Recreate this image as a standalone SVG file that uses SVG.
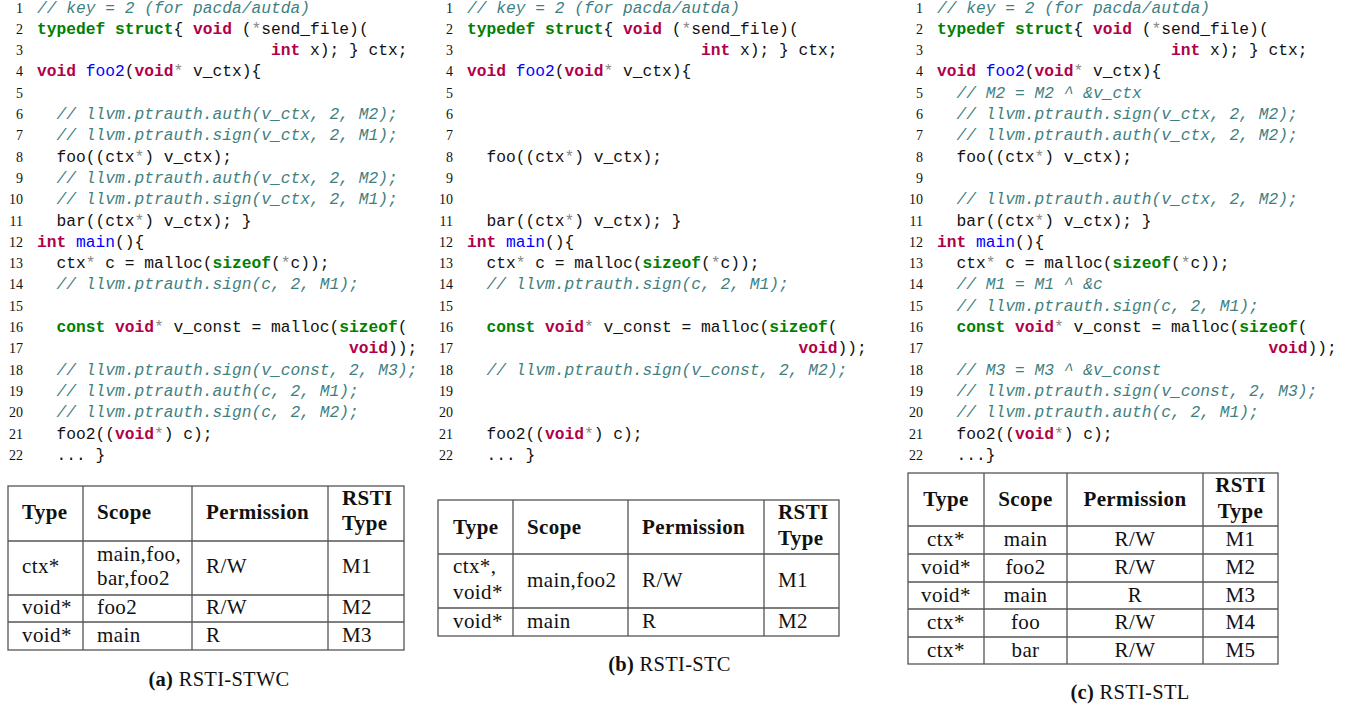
<svg xmlns="http://www.w3.org/2000/svg" width="1348" height="706" viewBox="0 0 1348 706">
<style>
.code{font-family:"Liberation Mono",monospace;font-size:16.25px;fill:#111}
.c{fill:#3f7f7f;font-style:italic}
.kg{fill:#008000;font-weight:bold}
.kr{fill:#b0004a;font-weight:bold}
.fn{fill:#0000ff}
.a{fill:#888}
.ln{font-family:"Liberation Serif",serif;font-size:14px;text-anchor:end;fill:#111}
.tt{font-family:"Liberation Serif",serif;font-size:21px;letter-spacing:0.4px;fill:#111}
.ct{text-anchor:middle}
.b{font-weight:bold}
.cap{font-family:"Liberation Serif",serif;font-size:20.5px;letter-spacing:0.3px;fill:#111;text-anchor:middle}
.grid{fill:none;stroke:#555;stroke-width:1.3}
</style>
<rect width="1348" height="706" fill="#fff"/>

<!-- Panel A -->
<g id="panelA">
<g class="ln">
<text x="23" y="12.5">1</text><text x="23" y="33.8">2</text><text x="23" y="55.1">3</text><text x="23" y="76.4">4</text><text x="23" y="97.7">5</text><text x="23" y="119">6</text><text x="23" y="140.3">7</text><text x="23" y="161.6">8</text><text x="23" y="182.9">9</text><text x="23" y="204.2">10</text><text x="23" y="225.5">11</text><text x="23" y="246.8">12</text><text x="23" y="268.1">13</text><text x="23" y="289.4">14</text><text x="23" y="310.7">15</text><text x="23" y="332">16</text><text x="23" y="353.3">17</text><text x="23" y="374.6">18</text><text x="23" y="395.9">19</text><text x="23" y="417.2">20</text><text x="23" y="438.5">21</text><text x="23" y="459.8">22</text>
</g>
<g class="code">
<text x="37" y="12.5"><tspan class="c">// key = 2 (for pacda/autda)</tspan></text>
<text x="37" y="33.8"><tspan class="kg">typedef</tspan> <tspan class="kg">struct</tspan>{ <tspan class="kr">void</tspan> (<tspan class="a">*</tspan>send_file)(</text>
<text x="271" y="55.1"><tspan class="kr">int</tspan> x); } ctx;</text>
<text x="37" y="76.4"><tspan class="kr">void</tspan> <tspan class="fn">foo2</tspan>(<tspan class="kr">void</tspan><tspan class="a">*</tspan> v_ctx){</text>
<text x="56.5" y="119"><tspan class="c">// llvm.ptrauth.auth(v_ctx, 2, M2);</tspan></text>
<text x="56.5" y="140.3"><tspan class="c">// llvm.ptrauth.sign(v_ctx, 2, M1);</tspan></text>
<text x="56.5" y="161.6">foo((ctx<tspan class="a">*</tspan>) v_ctx);</text>
<text x="56.5" y="182.9"><tspan class="c">// llvm.ptrauth.auth(v_ctx, 2, M2);</tspan></text>
<text x="56.5" y="204.2"><tspan class="c">// llvm.ptrauth.sign(v_ctx, 2, M1);</tspan></text>
<text x="56.5" y="225.5">bar((ctx<tspan class="a">*</tspan>) v_ctx); }</text>
<text x="37" y="246.8"><tspan class="kr">int</tspan> <tspan class="fn">main</tspan>(){</text>
<text x="56.5" y="268.1">ctx<tspan class="a">*</tspan> c = malloc(<tspan class="kg">sizeof</tspan>(<tspan class="a">*</tspan>c));</text>
<text x="56.5" y="289.4"><tspan class="c">// llvm.ptrauth.sign(c, 2, M1);</tspan></text>
<text x="56.5" y="332"><tspan class="kg">const</tspan> <tspan class="kr">void</tspan><tspan class="a">*</tspan> v_const = malloc(<tspan class="kg">sizeof</tspan>(</text>
<text x="349" y="353.3"><tspan class="kr">void</tspan>));</text>
<text x="56.5" y="374.6"><tspan class="c">// llvm.ptrauth.sign(v_const, 2, M3);</tspan></text>
<text x="56.5" y="395.9"><tspan class="c">// llvm.ptrauth.auth(c, 2, M1);</tspan></text>
<text x="56.5" y="417.2"><tspan class="c">// llvm.ptrauth.sign(c, 2, M2);</tspan></text>
<text x="56.5" y="438.5">foo2((<tspan class="kr">void</tspan><tspan class="a">*</tspan>) c);</text>
<text x="56.5" y="459.8">... }</text>
</g>
<g id="tableA">
<rect class="grid" x="8" y="486" width="396" height="164"/>
<path class="grid" d="M83 486V650M192 486V650M328 486V650M8 541H404M8 595H404M8 622H404"/>
<g class="tt">
<text class="b" x="22" y="519">Type</text><text class="b" x="97" y="519">Scope</text><text class="b" x="206" y="519">Permission</text><text class="b" x="342" y="505">RSTI</text><text class="b" x="342" y="530">Type</text>
<text x="22" y="573">ctx*</text><text x="97" y="561">main,foo,</text><text x="97" y="585">bar,foo2</text><text x="206" y="573">R/W</text><text x="342" y="573">M1</text>
<text x="22" y="614">void*</text><text x="97" y="614">foo2</text><text x="206" y="614">R/W</text><text x="342" y="614">M2</text>
<text x="22" y="642">void*</text><text x="97" y="642">main</text><text x="206" y="642">R</text><text x="342" y="642">M3</text>
</g>
</g>
<text class="cap" x="219" y="686"><tspan class="b">(a)</tspan> RSTI-STWC</text>
</g>

<!-- Panel B -->
<g id="panelB">
<g class="ln">
<text x="453" y="12.5">1</text><text x="453" y="33.8">2</text><text x="453" y="55.1">3</text><text x="453" y="76.4">4</text><text x="453" y="97.7">5</text><text x="453" y="119">6</text><text x="453" y="140.3">7</text><text x="453" y="161.6">8</text><text x="453" y="182.9">9</text><text x="453" y="204.2">10</text><text x="453" y="225.5">11</text><text x="453" y="246.8">12</text><text x="453" y="268.1">13</text><text x="453" y="289.4">14</text><text x="453" y="310.7">15</text><text x="453" y="332">16</text><text x="453" y="353.3">17</text><text x="453" y="374.6">18</text><text x="453" y="395.9">19</text><text x="453" y="417.2">20</text><text x="453" y="438.5">21</text><text x="453" y="459.8">22</text>
</g>
<g class="code">
<text x="467" y="12.5"><tspan class="c">// key = 2 (for pacda/autda)</tspan></text>
<text x="467" y="33.8"><tspan class="kg">typedef</tspan> <tspan class="kg">struct</tspan>{ <tspan class="kr">void</tspan> (<tspan class="a">*</tspan>send_file)(</text>
<text x="701" y="55.1"><tspan class="kr">int</tspan> x); } ctx;</text>
<text x="467" y="76.4"><tspan class="kr">void</tspan> <tspan class="fn">foo2</tspan>(<tspan class="kr">void</tspan><tspan class="a">*</tspan> v_ctx){</text>
<text x="486.5" y="161.6">foo((ctx<tspan class="a">*</tspan>) v_ctx);</text>
<text x="486.5" y="225.5">bar((ctx<tspan class="a">*</tspan>) v_ctx); }</text>
<text x="467" y="246.8"><tspan class="kr">int</tspan> <tspan class="fn">main</tspan>(){</text>
<text x="486.5" y="268.1">ctx<tspan class="a">*</tspan> c = malloc(<tspan class="kg">sizeof</tspan>(<tspan class="a">*</tspan>c));</text>
<text x="486.5" y="289.4"><tspan class="c">// llvm.ptrauth.sign(c, 2, M1);</tspan></text>
<text x="486.5" y="332"><tspan class="kg">const</tspan> <tspan class="kr">void</tspan><tspan class="a">*</tspan> v_const = malloc(<tspan class="kg">sizeof</tspan>(</text>
<text x="798.5" y="353.3"><tspan class="kr">void</tspan>));</text>
<text x="486.5" y="374.6"><tspan class="c">// llvm.ptrauth.sign(v_const, 2, M2);</tspan></text>
<text x="486.5" y="438.5">foo2((<tspan class="kr">void</tspan><tspan class="a">*</tspan>) c);</text>
<text x="486.5" y="459.8">... }</text>
</g>
<g id="tableB">
<rect class="grid" x="438" y="500" width="401" height="136"/>
<path class="grid" d="M513 500V636M628 500V636M764 500V636M438 554H839M438 608H839"/>
<g class="tt">
<text class="b" x="453" y="534">Type</text><text class="b" x="527" y="534">Scope</text><text class="b" x="642" y="534">Permission</text><text class="b" x="778" y="519">RSTI</text><text class="b" x="778" y="545">Type</text>
<text x="453" y="573">ctx*,</text><text x="453" y="599">void*</text><text x="527" y="587">main,foo2</text><text x="642" y="587">R/W</text><text x="778" y="587">M1</text>
<text x="453" y="628">void*</text><text x="527" y="628">main</text><text x="642" y="628">R</text><text x="778" y="628">M2</text>
</g>
</g>
<text class="cap" x="669.5" y="671"><tspan class="b">(b)</tspan> RSTI-STC</text>
</g>

<!-- Panel C -->
<g id="panelC">
<g class="ln">
<text x="923" y="12.5">1</text><text x="923" y="33.8">2</text><text x="923" y="55.1">3</text><text x="923" y="76.4">4</text><text x="923" y="97.7">5</text><text x="923" y="119">6</text><text x="923" y="140.3">7</text><text x="923" y="161.6">8</text><text x="923" y="182.9">9</text><text x="923" y="204.2">10</text><text x="923" y="225.5">11</text><text x="923" y="246.8">12</text><text x="923" y="268.1">13</text><text x="923" y="289.4">14</text><text x="923" y="310.7">15</text><text x="923" y="332">16</text><text x="923" y="353.3">17</text><text x="923" y="374.6">18</text><text x="923" y="395.9">19</text><text x="923" y="417.2">20</text><text x="923" y="438.5">21</text><text x="923" y="459.8">22</text>
</g>
<g class="code">
<text x="937" y="12.5"><tspan class="c">// key = 2 (for pacda/autda)</tspan></text>
<text x="937" y="33.8"><tspan class="kg">typedef</tspan> <tspan class="kg">struct</tspan>{ <tspan class="kr">void</tspan> (<tspan class="a">*</tspan>send_file)(</text>
<text x="1171" y="55.1"><tspan class="kr">int</tspan> x); } ctx;</text>
<text x="937" y="76.4"><tspan class="kr">void</tspan> <tspan class="fn">foo2</tspan>(<tspan class="kr">void</tspan><tspan class="a">*</tspan> v_ctx){</text>
<text x="956.5" y="97.7"><tspan class="c">// M2 = M2 ^ &amp;v_ctx</tspan></text>
<text x="956.5" y="119"><tspan class="c">// llvm.ptrauth.sign(v_ctx, 2, M2);</tspan></text>
<text x="956.5" y="140.3"><tspan class="c">// llvm.ptrauth.auth(v_ctx, 2, M2);</tspan></text>
<text x="956.5" y="161.6">foo((ctx<tspan class="a">*</tspan>) v_ctx);</text>
<text x="956.5" y="204.2"><tspan class="c">// llvm.ptrauth.auth(v_ctx, 2, M2);</tspan></text>
<text x="956.5" y="225.5">bar((ctx<tspan class="a">*</tspan>) v_ctx); }</text>
<text x="937" y="246.8"><tspan class="kr">int</tspan> <tspan class="fn">main</tspan>(){</text>
<text x="956.5" y="268.1">ctx<tspan class="a">*</tspan> c = malloc(<tspan class="kg">sizeof</tspan>(<tspan class="a">*</tspan>c));</text>
<text x="956.5" y="289.4"><tspan class="c">// M1 = M1 ^ &amp;c</tspan></text>
<text x="956.5" y="310.7"><tspan class="c">// llvm.ptrauth.sign(c, 2, M1);</tspan></text>
<text x="956.5" y="332"><tspan class="kg">const</tspan> <tspan class="kr">void</tspan><tspan class="a">*</tspan> v_const = malloc(<tspan class="kg">sizeof</tspan>(</text>
<text x="1268.5" y="353.3"><tspan class="kr">void</tspan>));</text>
<text x="956.5" y="374.6"><tspan class="c">// M3 = M3 ^ &amp;v_const</tspan></text>
<text x="956.5" y="395.9"><tspan class="c">// llvm.ptrauth.sign(v_const, 2, M3);</tspan></text>
<text x="956.5" y="417.2"><tspan class="c">// llvm.ptrauth.auth(c, 2, M1);</tspan></text>
<text x="956.5" y="438.5">foo2((<tspan class="kr">void</tspan><tspan class="a">*</tspan>) c);</text>
<text x="956.5" y="459.8">...}</text>
</g>
<g id="tableC">
<rect class="grid" x="908" y="473" width="370" height="191"/>
<path class="grid" d="M984 473V664M1067 473V664M1203 473V664M908 526H1278M908 554H1278M908 582H1278M908 609H1278M908 637H1278"/>
<g class="tt ct">
<text class="b" x="946" y="506">Type</text><text class="b" x="1025.5" y="506">Scope</text><text class="b" x="1135" y="506">Permission</text><text class="b" x="1240.5" y="492">RSTI</text><text class="b" x="1240.5" y="518">Type</text>
<text x="946" y="546">ctx*</text><text x="1025.5" y="546">main</text><text x="1135" y="546">R/W</text><text x="1240.5" y="546">M1</text>
<text x="946" y="574">void*</text><text x="1025.5" y="574">foo2</text><text x="1135" y="574">R/W</text><text x="1240.5" y="574">M2</text>
<text x="946" y="602">void*</text><text x="1025.5" y="602">main</text><text x="1135" y="602">R</text><text x="1240.5" y="602">M3</text>
<text x="946" y="629">ctx*</text><text x="1025.5" y="629">foo</text><text x="1135" y="629">R/W</text><text x="1240.5" y="629">M4</text>
<text x="946" y="657">ctx*</text><text x="1025.5" y="657">bar</text><text x="1135" y="657">R/W</text><text x="1240.5" y="657">M5</text>
</g>
</g>
<text class="cap" x="1130" y="699"><tspan class="b">(c)</tspan> RSTI-STL</text>
</g>
</svg>
